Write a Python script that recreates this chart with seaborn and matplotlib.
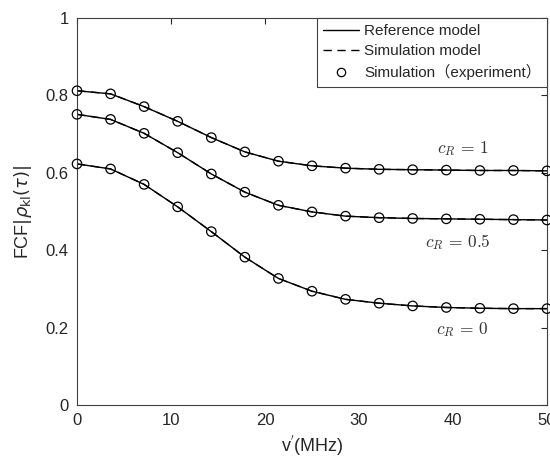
import numpy as np
import pandas as pd
import seaborn as sns
import matplotlib
matplotlib.use("Agg")
import matplotlib.pyplot as plt
from matplotlib.lines import Line2D

# ---- data ----
freq = [0.0, 3.57, 7.14, 10.71, 14.29, 17.86, 21.43, 25.0, 28.57, 32.14, 35.71, 39.29, 42.86, 46.43, 50.0]
fcf_c1 = [0.812, 0.804, 0.771, 0.733, 0.691, 0.654, 0.630, 0.618, 0.612, 0.609, 0.608, 0.607, 0.606, 0.606, 0.605]
fcf_c05 = [0.751, 0.738, 0.702, 0.652, 0.597, 0.550, 0.516, 0.499, 0.488, 0.484, 0.482, 0.481, 0.480, 0.479, 0.478]
fcf_c0 = [0.623, 0.610, 0.570, 0.512, 0.448, 0.382, 0.327, 0.294, 0.273, 0.263, 0.256, 0.252, 0.250, 0.249, 0.249]
series_names = ["c1", "c05", "c0"]
curve_labels = [r"$c_R\,=\,1$", r"$c_R\,=\,0.5$", r"$c_R\,=\,0$"]
label_pos = [(41.0, 0.664), (40.5, 0.42), (41.0, 0.194)]
x_ticks = [0, 10, 20, 30, 40, 50]
y_ticks = [0, 0.2, 0.4, 0.6, 0.8, 1]
legend_labels = ["Reference model", "Simulation model", "Simulation\uff08experiment\uff09"]

df = pd.DataFrame({
    "freq": freq * 3,
    "fcf": fcf_c1 + fcf_c05 + fcf_c0,
    "series": sum([[s] * len(freq) for s in series_names], []),
})

sns.set_style("white")
plt.rcParams["font.family"] = ["Liberation Sans", "Noto Sans CJK SC", "DejaVu Sans"]

fig = plt.figure(figsize=(5.5, 4.61), dpi=100)
ax = fig.add_axes([77 / 550, 1 - 405 / 461, 470 / 550, 387 / 461])

dash = (0, (6, 4))
for s in series_names:
    d = df[df.series == s]
    sns.lineplot(data=d, x="freq", y="fcf", ax=ax, color="black", lw=1.0,
                 estimator=None, sort=False, legend=False)
    sns.lineplot(data=d, x="freq", y="fcf", ax=ax, color="black", lw=1.0,
                 linestyle=dash, estimator=None, sort=False, legend=False)
    sns.scatterplot(data=d, x="freq", y="fcf", ax=ax, marker="o", s=46,
                    facecolor="none", edgecolor="black", linewidth=0.9,
                    legend=False, zorder=5, clip_on=False)

for lab, (lx, ly) in zip(curve_labels, label_pos):
    ax.text(lx, ly, lab, fontsize=12.5, ha="center", va="center", color="#333333",
            math_fontfamily="cm")

ax.set_xlim(0, 50)
ax.set_ylim(0, 1)
ax.set_xticks(x_ticks)
ax.set_yticks(y_ticks)
ax.set_xticklabels([str(t) for t in x_ticks])
ax.set_yticklabels(["0", "0.2", "0.4", "0.6", "0.8", "1"])
ax.tick_params(direction="in", length=4, width=0.8, colors="#262626",
               labelsize=12, pad=6, top=True, right=True, labelcolor="#262626")
for sp in ax.spines.values():
    sp.set_visible(True)
    sp.set_color("#404040")
    sp.set_linewidth(0.8)

ax.set_xlabel(r"v$^{'}$(MHz)", fontsize=13, color="#262626", labelpad=3)
ax.set_ylabel(r"FCF$|\rho_{\mathrm{kl}}(\tau)|$", fontsize=13, color="#262626", labelpad=8)

handles = [
    Line2D([], [], color="black", lw=1.0),
    Line2D([], [], color="black", lw=1.0, linestyle=dash),
    Line2D([], [], color="black", lw=0, marker="o", markerfacecolor="none",
           markeredgecolor="black", markersize=6, markeredgewidth=0.9),
]
leg = ax.legend(handles, legend_labels, loc="upper right", bbox_to_anchor=(1, 1),
                borderaxespad=0, frameon=True, fancybox=False, framealpha=1,
                fontsize=11, handlelength=2.35, handletextpad=0.35,
                borderpad=0.4, labelspacing=0.4)
leg.get_frame().set_edgecolor("#404040")
leg.get_frame().set_linewidth(0.8)

fig.savefig("out.png", dpi=100)
